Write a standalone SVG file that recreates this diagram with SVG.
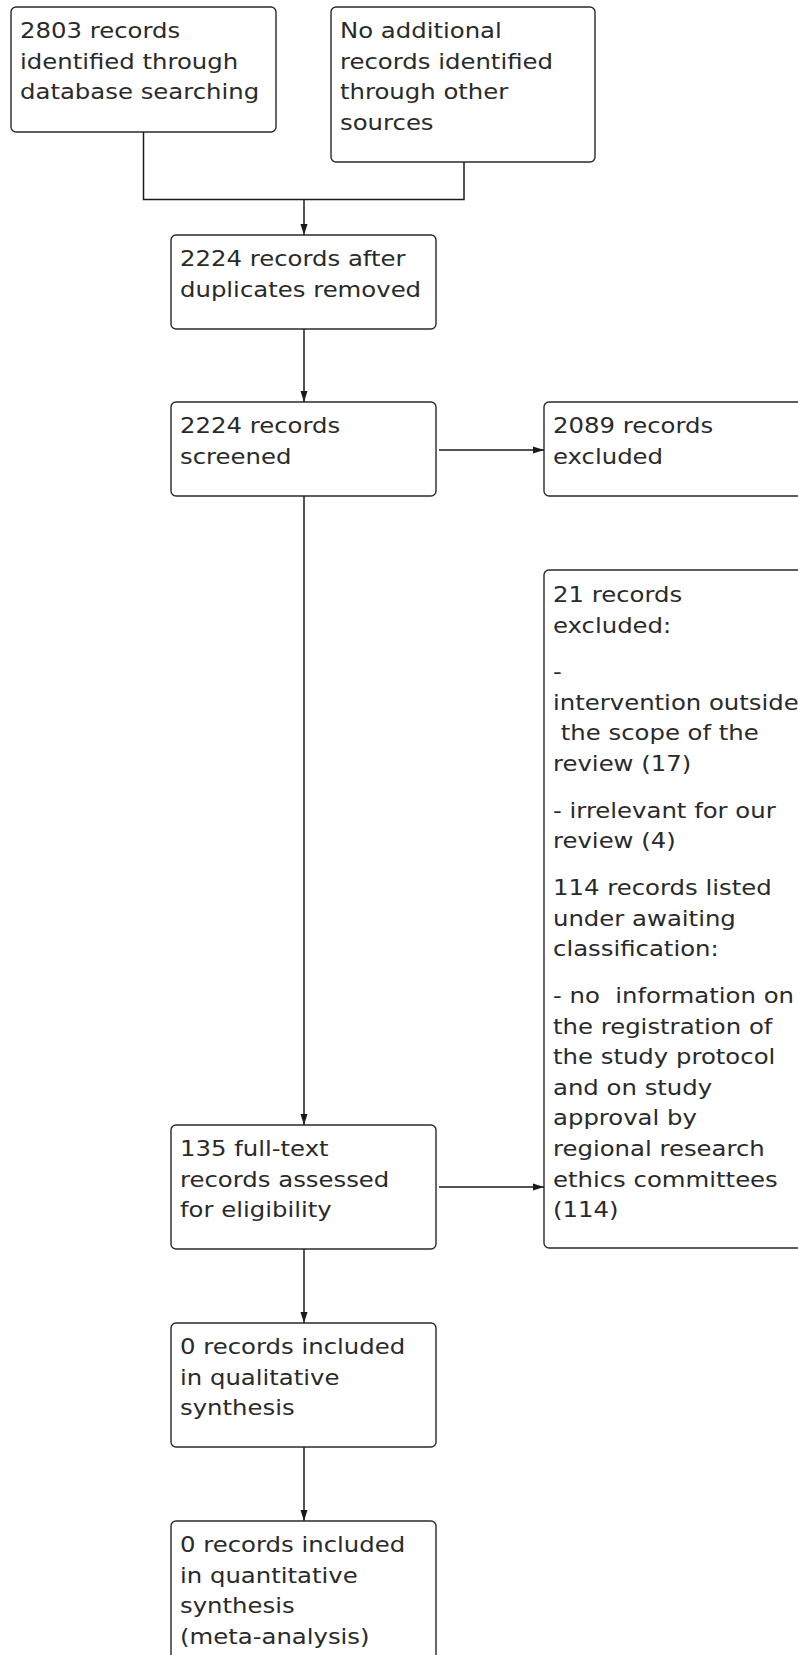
<svg xmlns="http://www.w3.org/2000/svg" width="798" height="1655" viewBox="0 0 798 1655">
<style>
.box{fill:#ffffff;stroke:#2a2a2a;stroke-width:1.4}
.t{font-family:"DejaVu Sans","Verdana",sans-serif;font-size:21px;fill:#2a2a2a;white-space:pre}
.c{fill:none;stroke:#1a1a1a;stroke-width:1.5}
</style>
<defs>
<marker id="ah" viewBox="0 0 11 8" refX="11" refY="4" markerWidth="11" markerHeight="8" markerUnits="userSpaceOnUse" orient="auto">
<path d="M0,0.5 L11,4 L0,7.5 z" fill="#1a1a1a"/>
</marker>
</defs>
<rect width="798" height="1655" fill="#ffffff"/>
<g id="connectors">
<path class="c" d="M143.5,132 V199.5 H464 V162"/>
<path class="c" d="M304,199.5 V235" marker-end="url(#ah)"/>
<path class="c" d="M304,329 V402" marker-end="url(#ah)"/>
<path class="c" d="M439,450 H544" marker-end="url(#ah)"/>
<path class="c" d="M304,496 V1125" marker-end="url(#ah)"/>
<path class="c" d="M439,1187 H544" marker-end="url(#ah)"/>
<path class="c" d="M304,1249 V1323" marker-end="url(#ah)"/>
<path class="c" d="M304,1447 V1521" marker-end="url(#ah)"/>
</g>
<g id="n1">
<rect class="box" x="11" y="7" width="265" height="125" rx="5"/>
<text class="t" transform="translate(20,38) scale(1.16,1)"><tspan x="0" y="0">2803 records</tspan><tspan x="0" y="30.6">identified through</tspan><tspan x="0" y="61.2">database searching</tspan></text>
</g>
<g id="n2">
<rect class="box" x="331" y="7" width="264" height="155" rx="5"/>
<text class="t" transform="translate(340,38) scale(1.16,1)"><tspan x="0" y="0">No additional</tspan><tspan x="0" y="30.6">records identified</tspan><tspan x="0" y="61.2">through other</tspan><tspan x="0" y="91.8">sources</tspan></text>
</g>
<g id="n3">
<rect class="box" x="171" y="235" width="265" height="94" rx="5"/>
<text class="t" transform="translate(180,266) scale(1.16,1)"><tspan x="0" y="0">2224 records after</tspan><tspan x="0" y="30.6">duplicates removed</tspan></text>
</g>
<g id="n4">
<rect class="box" x="171" y="402" width="265" height="94" rx="5"/>
<text class="t" transform="translate(180,433) scale(1.16,1)"><tspan x="0" y="0">2224 records</tspan><tspan x="0" y="30.6">screened</tspan></text>
</g>
<g id="n5">
<rect class="box" x="544" y="402" width="266" height="94" rx="5"/>
<text class="t" transform="translate(553,433) scale(1.16,1)"><tspan x="0" y="0">2089 records</tspan><tspan x="0" y="30.6">excluded</tspan></text>
</g>
<g id="n6">
<rect class="box" x="544" y="570" width="266" height="678" rx="5"/>
<text class="t" transform="translate(553,602) scale(1.16,1)"><tspan x="0" y="0">21 records</tspan><tspan x="0" y="30.6">excluded:</tspan><tspan x="0" y="77">-</tspan><tspan x="0" y="107.6">intervention outside</tspan><tspan x="0" y="138.2"> the scope of the</tspan><tspan x="0" y="168.8">review (17)</tspan><tspan x="0" y="215.6">- irrelevant for our</tspan><tspan x="0" y="246.2">review (4)</tspan><tspan x="0" y="293">114 records listed</tspan><tspan x="0" y="323.6">under awaiting</tspan><tspan x="0" y="354.2">classification:</tspan><tspan x="0" y="401">- no  information on</tspan><tspan x="0" y="431.6">the registration of</tspan><tspan x="0" y="462.2">the study protocol</tspan><tspan x="0" y="492.8">and on study</tspan><tspan x="0" y="523.4">approval by</tspan><tspan x="0" y="554">regional research</tspan><tspan x="0" y="584.6">ethics committees</tspan><tspan x="0" y="615.2">(114)</tspan></text>
</g>
<g id="n7">
<rect class="box" x="171" y="1125" width="265" height="124" rx="5"/>
<text class="t" transform="translate(180,1156) scale(1.16,1)"><tspan x="0" y="0">135 full-text</tspan><tspan x="0" y="30.6">records assessed</tspan><tspan x="0" y="61.2">for eligibility</tspan></text>
</g>
<g id="n8">
<rect class="box" x="171" y="1323" width="265" height="124" rx="5"/>
<text class="t" transform="translate(180,1354) scale(1.16,1)"><tspan x="0" y="0">0 records included</tspan><tspan x="0" y="30.6">in qualitative</tspan><tspan x="0" y="61.2">synthesis</tspan></text>
</g>
<g id="n9">
<rect class="box" x="171" y="1521" width="265" height="160" rx="5"/>
<text class="t" transform="translate(180,1552) scale(1.16,1)"><tspan x="0" y="0">0 records included</tspan><tspan x="0" y="30.6">in quantitative</tspan><tspan x="0" y="61.2">synthesis</tspan><tspan x="0" y="91.8">(meta-analysis)</tspan></text>
</g>
</svg>
